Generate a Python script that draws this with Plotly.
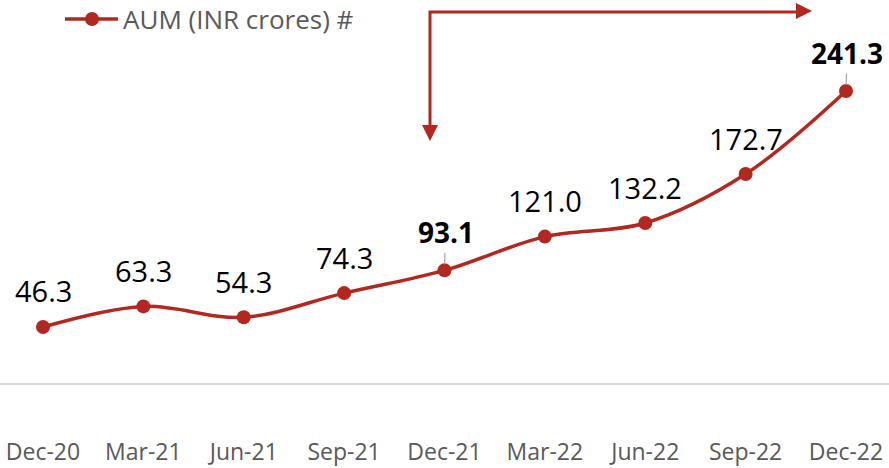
import plotly.graph_objects as go

categories = ["Dec-20", "Mar-21", "Jun-21", "Sep-21", "Dec-21",
              "Mar-22", "Jun-22", "Sep-22", "Dec-22"]
aum = [46.3, 63.3, 54.3, 74.3, 93.1, 121.0, 132.2, 172.7, 241.3]
highlight = [False, False, False, False, True, False, False, False, True]
series_name = "AUM (INR crores) #"

RED = "#B0281F"
GREY_TXT = "#595959"
FONT = "Segoe UI, Open Sans, sans-serif"

W, H = 889, 468
B = 85
PH = H - B  # plot height in px

def px(x):
    return x / W

def py(y):
    return 1 - y / PH

fig = go.Figure()
fig.add_trace(go.Scatter(
    x=categories, y=aum, mode="lines+markers", name=series_name,
    line=dict(color=RED, width=3.5, shape="spline", smoothing=1.0),
    marker=dict(color=RED, size=14),
    showlegend=False, hoverinfo="x+y",
))

annotations = []
for c, v, hl in zip(categories, aum, highlight):
    txt = f"{v:.1f}"
    if hl:
        annotations.append(dict(
            x=c, y=v, xref="x", yref="y", text=f"<b>{txt}</b>",
            showarrow=True, arrowhead=0, arrowwidth=1.2, arrowcolor="#A6A6A6",
            ax=1, ay=-38, standoff=6,
            font=dict(size=28, color="#000000", family=FONT),
        ))
    else:
        annotations.append(dict(
            x=c, y=v, xref="x", yref="y", text=txt, showarrow=False,
            yshift=36, xanchor="center", yanchor="middle",
            font=dict(size=29, color="#000000", family=FONT),
        ))

# legend (manual)
annotations.append(dict(
    x=px(121), y=py(19), xref="paper", yref="paper", text=series_name,
    showarrow=False, xanchor="left", yanchor="middle",
    font=dict(size=26, color=GREY_TXT, family=FONT),
))

shapes = [
    dict(type="line", xref="paper", yref="paper",
         x0=px(65), x1=px(118), y0=py(19), y1=py(19),
         line=dict(color=RED, width=3.5)),
    dict(type="circle", xref="paper", yref="paper",
         x0=px(85), x1=px(99), y0=py(26), y1=py(12),
         fillcolor=RED, line=dict(color=RED, width=0)),
    # elbow arrow
    dict(type="path", xref="paper", yref="paper",
         path=f"M {px(430)} {py(127)} L {px(430)} {py(12)} L {px(798)} {py(12)}",
         line=dict(color=RED, width=3)),
    dict(type="path", xref="paper", yref="paper",
         path=f"M {px(422)} {py(125)} L {px(438)} {py(125)} L {px(430)} {py(141)} Z",
         fillcolor=RED, line=dict(color=RED, width=0)),
    dict(type="path", xref="paper", yref="paper",
         path=f"M {px(796)} {py(3)} L {px(812)} {py(11)} L {px(796)} {py(19)} Z",
         fillcolor=RED, line=dict(color=RED, width=0)),
]

x0 = 43
step = (846 - 43) / 8
fig.update_layout(
    width=W, height=H,
    margin=dict(l=0, r=0, t=0, b=B),
    paper_bgcolor="white", plot_bgcolor="white",
    font=dict(family=FONT),
    annotations=annotations, shapes=shapes,
    xaxis=dict(
        type="category", categoryorder="array", categoryarray=categories,
        range=[-x0 / step, (W - x0) / step],
        showgrid=False, zeroline=False,
        showline=True, linecolor="#D9D9D9", linewidth=2,
        ticks="", ticklabelstandoff=47,
        tickfont=dict(size=23, color=GREY_TXT, family=FONT),
        automargin=False, fixedrange=True,
    ),
    yaxis=dict(
        range=[0, PH / 1.21], visible=False, showgrid=False,
        zeroline=False, fixedrange=True,
    ),
    showlegend=False,
)

fig.write_html(
    "out.html",
    config={"displayModeBar": False},
    post_script="document.body.style.margin='0';document.body.style.padding='0';",
)
